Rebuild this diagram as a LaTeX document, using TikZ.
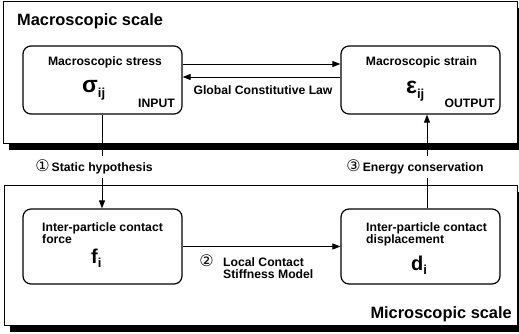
\documentclass[tikz,border=0pt]{standalone}
\usepackage{fontspec}
\setmainfont{Liberation Sans}
\newfontfamily\circfont{DejaVu Sans}
\usetikzlibrary{arrows.meta,shadows}
\newcommand\myfs[1]{\fontsize{#1}{#1}\selectfont}
\begin{document}
\begin{tikzpicture}[x=1pt,y=-1pt,
  every node/.style={inner sep=0pt, font=\bfseries},
  outerbox/.style={draw=black, fill=white, line width=0.9pt,
     drop shadow={shadow xshift=6pt, shadow yshift=-7pt, fill=black, opacity=1}},
  inbox/.style={draw=black, fill=white, line width=1.2pt, rounded corners=8pt,
     minimum width=159pt},
  lbl/.style={font=\myfs{12.2}\bfseries},
  big/.style={font=\myfs{16.4}\bfseries},
  circ/.style={font=\circfont\myfs{16}},
  arr/.style={-{Triangle[length=8pt,width=6pt]}, line width=0.9pt}]
\useasboundingbox (0,0) rectangle (519,333);
% outer boxes
\node[outerbox, minimum width=514pt, minimum height=142pt] (macro) at (260,72) {};
\node[outerbox, minimum width=513pt, minimum height=140pt] (micro) at (260.5,255) {};
\node[big, anchor=base west] (tmacro) at (17,25) {Macroscopic scale};
\node[big, anchor=base east] (tmicro) at (512,318) {Microscopic scale};
% inner boxes
\node[inbox, minimum height=68pt] (stress) at (102.5,80) {};
\node[inbox, minimum height=68pt] (strain) at (420.5,80) {};
\node[inbox, minimum height=75pt] (force) at (102.5,246.5) {};
\node[inbox, minimum height=75pt] (disp) at (420.5,246.5) {};
% box texts
\node[lbl, anchor=base] (ts) at (105,65) {Macroscopic stress};
\node[lbl, anchor=base] (te) at (421.5,65) {Macroscopic strain};
\node[anchor=base west] (sig) at (82,92) {\myfs{23}\bfseries σ\raisebox{-5pt}{\myfs{13}\bfseries ij}};
\node[anchor=base west] (eps) at (406,93) {\myfs{23}\bfseries ε\raisebox{-5pt}{\myfs{13}\bfseries ij}};
\node[lbl, anchor=base east] (tin) at (175,107) {INPUT};
\node[lbl, anchor=base east] (tout) at (495,107) {OUTPUT};
\node[lbl, anchor=base west, align=left] (tf) at (42,243) {Inter-particle contact\\[-1pt]force};
\node[lbl, anchor=base west, align=left] (td) at (366,243) {Inter-particle contact\\[-1pt]displacement};
\node[anchor=base west] (fi) at (91,263) {\myfs{20}\bfseries f\raisebox{-4pt}{\myfs{13}\bfseries i}};
\node[anchor=base west] (di) at (411,270) {\myfs{20}\bfseries d\raisebox{-4pt}{\myfs{13}\bfseries i}};
% connectors
\draw[arr] ([yshift=16pt]stress.east) -- ([yshift=16pt]strain.west);
\draw[arr] ([yshift=3pt]strain.west) -- ([yshift=3pt]stress.east);
\node[lbl] (glaw) at (263,90) {Global Constitutive Law};
\draw[arr] ([xshift=-0.5pt]stress.south) -- ([xshift=-0.5pt]force.north);
\node[lbl, fill=white, inner ysep=4pt, inner xsep=1pt] (l1) at (94,167) {{\circfont\mdseries\myfs{16}①}\,Static hypothesis};
\draw[arr] ([xshift=6.5pt]disp.north) -- ([xshift=6.5pt]strain.south);
\node[lbl, fill=white, inner ysep=4pt, inner xsep=1pt] (l3) at (415,167) {{\circfont\mdseries\myfs{16}③}\,Energy conservation};
\draw[arr] (force.east) -- (disp.west);
\node[circ] (c2) at (206.5,261) {②};
\node[lbl, anchor=base west, align=left] (l2) at (223,278) {Local Contact\\[-1pt]Stiffness Model};
\end{tikzpicture}
\end{document}
